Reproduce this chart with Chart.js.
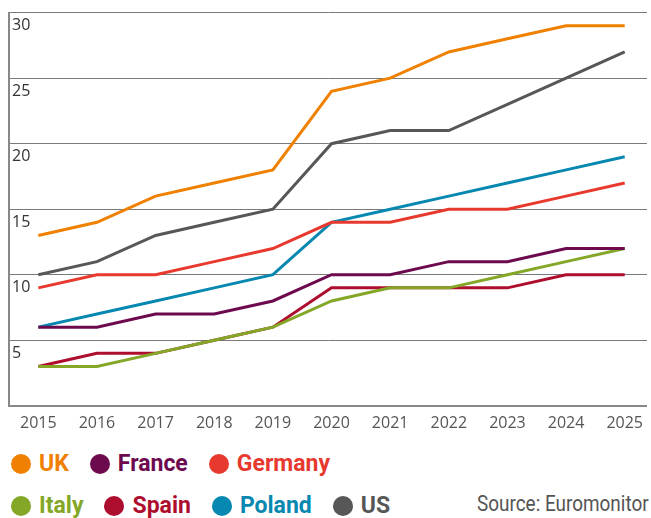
<!DOCTYPE html>
<html>
<head>
<meta charset="utf-8">
<script src="https://cdn.jsdelivr.net/npm/chart.js@4"></script>
<style>
  html, body { margin: 0; padding: 0; background: #fff; }
  #wrap { position: relative; width: 651px; height: 518px; overflow: hidden; }
  #box { position: absolute; left: 0; top: 0; width: 651px; height: 442px; }
  .row { position: absolute; left: 11px; display: flex; align-items: center; gap: 21px;
         font-family: "Liberation Sans Narrow", "Roboto", sans-serif; font-weight: bold; font-size: 23px; }
  .item { display: flex; align-items: center; gap: 8px; }
  .dot { width: 20px; height: 20px; border-radius: 50%; }
  #source { position: absolute; left: 477px; top: 491px; font-family: "Roboto", sans-serif;
            font-size: 22px; color: #555; white-space: nowrap; transform: scaleX(0.86); transform-origin: left center; }
</style>
</head>
<body>
<div id="wrap">
  <div id="box"><canvas id="chart"></canvas></div>
  <div class="row" id="row1" style="top:450px"></div>
  <div class="row" id="row2" style="top:492px"></div>
  <div id="source">Source: Euromonitor</div>
</div>
<script>
const years = [2015, 2016, 2017, 2018, 2019, 2020, 2021, 2022, 2023, 2024, 2025];
const yTicks = [5, 10, 15, 20, 25, 30];

const uk      = [13, 14, 16, 17, 18, 24, 25, 27, 28, 29, 29];
const france  = [6, 6, 7, 7, 8, 10, 10, 11, 11, 12, 12];
const germany = [9, 10, 10, 11, 12, 14, 14, 15, 15, 16, 17];
const italy   = [3, 3, 4, 5, 6, 8, 9, 9, 10, 11, 12];
const spain   = [3, 4, 4, 5, 6, 9, 9, 9, 9, 10, 10];
const poland  = [6, 7, 8, 9, 10, 14, 15, 16, 17, 18, 19];
const us      = [10, 11, 13, 14, 15, 20, 21, 21, 23, 25, 27];

const series = [
  { name: 'UK', data: uk, color: '#f08000', row: 1 },
  { name: 'France', data: france, color: '#6d0a4e', row: 1 },
  { name: 'Germany', data: germany, color: '#e8392f', row: 1 },
  { name: 'Italy', data: italy, color: '#84a727', row: 2 },
  { name: 'Spain', data: spain, color: '#ae0e2e', row: 2 },
  { name: 'Poland', data: poland, color: '#0688b1', row: 2 },
  { name: 'US', data: us, color: '#575757', row: 2 }
];

// html legend, two rows like the original
series.forEach(s => {
  const item = document.createElement('div');
  item.className = 'item';
  item.innerHTML = '<span class="dot" style="background:' + s.color + '"></span><span style="color:' + s.color + '">' + s.name + '</span>';
  document.getElementById('row' + s.row).appendChild(item);
});

const ctx = document.getElementById('chart');

new Chart(ctx, {
  type: 'line',
  data: {
    datasets: series.map(s => ({
      label: s.name,
      data: years.map((yr, i) => ({ x: yr, y: s.data[i] })),
      borderColor: s.color,
      backgroundColor: s.color,
      borderWidth: 3,
      pointRadius: 0,
      tension: 0
    }))
  },
  options: {
    responsive: true,
    maintainAspectRatio: false,
    animation: false,
    layout: { padding: { left: 3, right: 0, top: 12, bottom: 1 } },
    plugins: {
      legend: { display: false },
      tooltip: { enabled: false }
    },
    scales: {
      x: {
        type: 'linear',
        min: 2014.5,
        max: 2025.38,
        grid: { display: false, drawTicks: false },
        border: { display: true, color: '#888', width: 2 },
        ticks: {
          stepSize: 1,
          includeBounds: false,
          padding: 8,
          color: '#555',
          font: { family: 'Open Sans', size: 16 },
          callback: v => years.includes(v) ? String(v) : ''
        }
      },
      y: {
        min: 0,
        max: 30,
        grid: { color: '#7a7a7a', lineWidth: 1, drawTicks: false },
        border: { display: true, color: '#888', width: 2 },
        afterBuildTicks: axis => { axis.ticks = [0].concat(yTicks).map(v => ({ value: v })); },
        ticks: {
          mirror: true,
          padding: 3,
          labelOffset: 13,
          color: '#333',
          font: { family: 'Open Sans', size: 16 },
          callback: v => yTicks.includes(v) ? String(v) : ''
        }
      }
    }
  }
});
</script>
</body>
</html>
